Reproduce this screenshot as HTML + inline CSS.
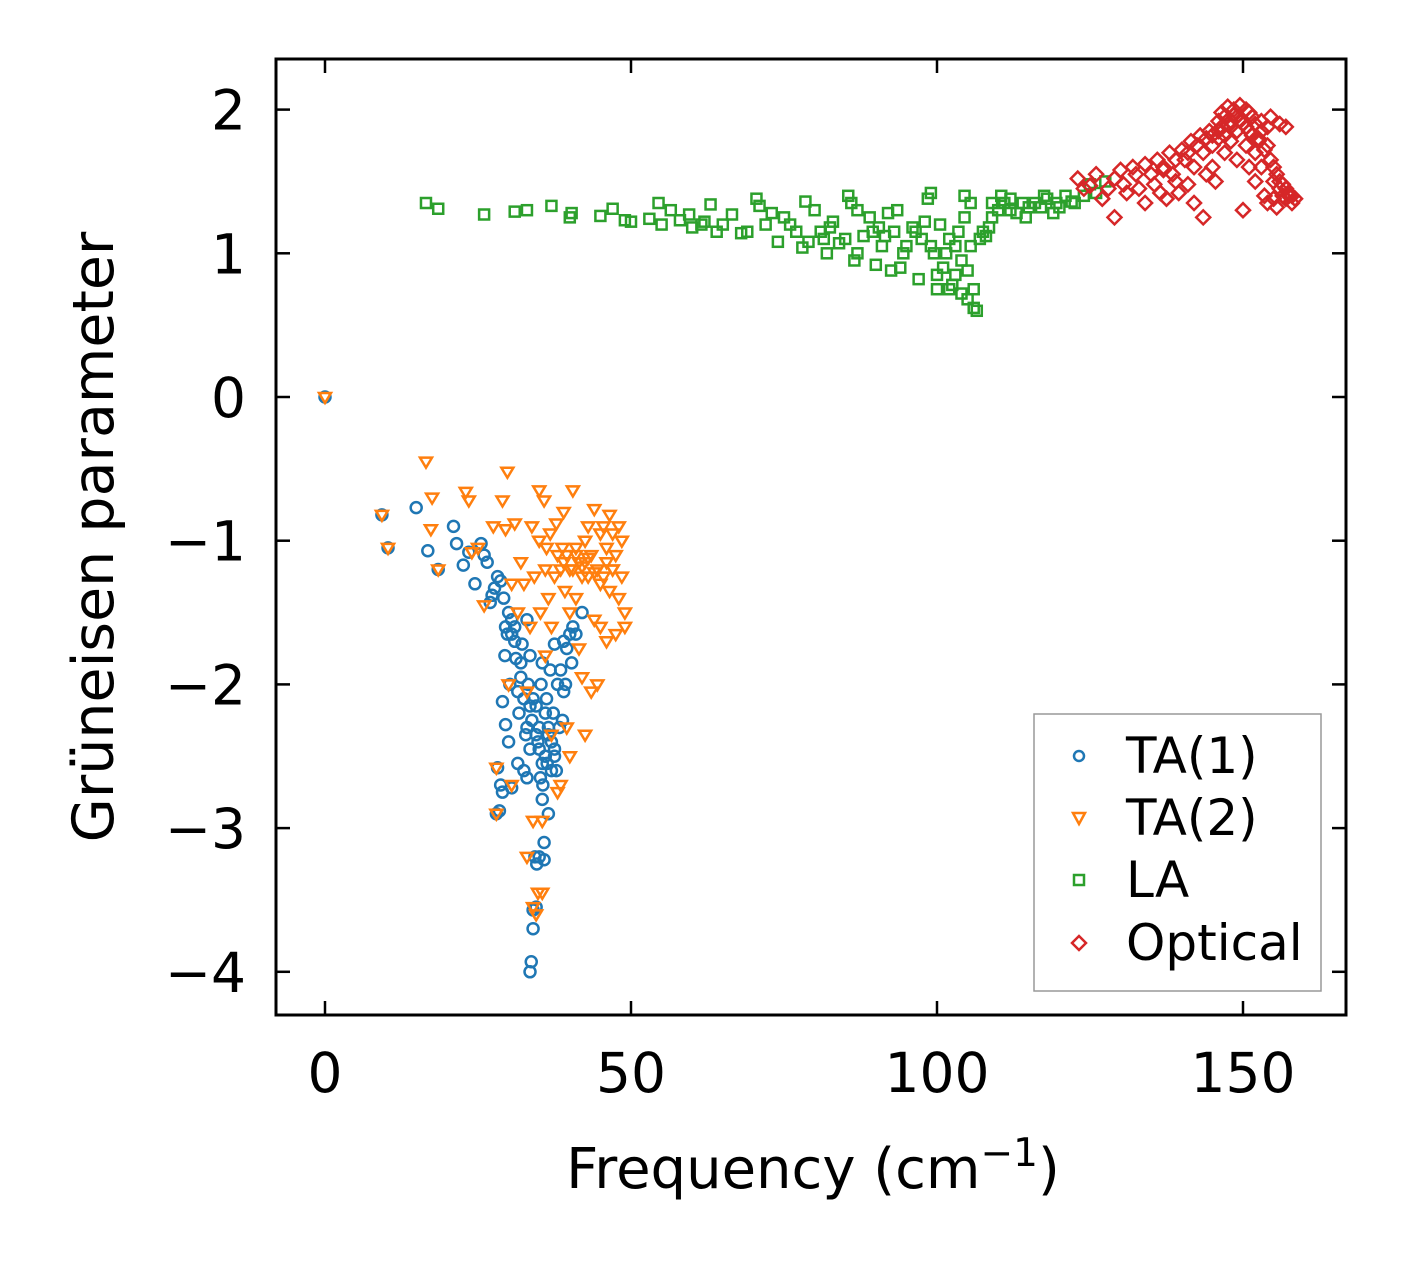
<!DOCTYPE html>
<html><head><meta charset="utf-8"><style>
body{margin:0;background:#fff;}
svg{display:block;font-family:"DejaVu Sans","Liberation Sans",sans-serif;}
</style></head><body>
<svg id="c" width="1406" height="1264">
<rect x="0" y="0" width="1406" height="1264" fill="#fff"/>
<g id="marks"></g>
<rect x="276" y="59" width="1070" height="956" fill="none" stroke="#000" stroke-width="3"/>
<g id="axes"></g>
<text x="813" y="1188" font-size="56" text-anchor="middle">Frequency (cm<tspan dy="-22" font-size="39">−1</tspan><tspan dy="22">)</tspan></text>
<text transform="translate(113,537) rotate(-90)" font-size="57" text-anchor="middle">Grüneisen parameter</text>
<g>
<rect x="1034" y="714" width="287" height="277" fill="#fff" stroke="#999" stroke-width="1.5"/>
<circle cx="1079" cy="756" r="5" fill="none" stroke="#1f77b4" stroke-width="2.5"/>
<text x="1126" y="773" font-size="50">TA(1)</text>
<path d="M1073,813 L1085,813 L1079,824 Z" fill="none" stroke="#ff7f0e" stroke-width="2.5"/>
<text x="1126" y="835" font-size="50">TA(2)</text>
<rect x="1074" y="875" width="10" height="10" fill="none" stroke="#2ca02c" stroke-width="2.5"/>
<text x="1126" y="897" font-size="50">LA</text>
<path d="M1079,936 L1086,943 L1079,950 L1072,943 Z" fill="none" stroke="#d62728" stroke-width="2.5"/>
<text x="1126" y="960" font-size="50">Optical</text>
</g>
</svg>
<script>
const xTicks=[0,50,100,150];
const yTicks=[2,1,0,-1,-2,-3,-4];
const yTickLabels=["2","1","0","−1","−2","−3","−4"];
const ta1X=[0,9.3,10.3,14.9,16.8,18.5,21,21.5,22.6,23.5,24.5,25.5,26,26.5,27,27.3,27.7,28.2,28.7,28,28.5,28.2,28.7,29,29.2,29.5,29.4,29.8,30,30.2,30,29.5,29,30.5,30.5,31,31.2,31.5,31.7,32,32.2,32.5,32.5,32.8,33,33,33.2,33.5,33.5,33.8,33.5,33.7,34,34,34.3,34.5,34.6,35,35,35.2,35.3,35.5,35.5,35.8,35.8,36,36.2,36.5,36.5,36.8,37,37.3,37.5,37.5,37.8,38,38.3,38.5,39,39,39.5,40,40.3,40.5,41,42,39.3,38.8,34.5,34.8,35.6,36.3,31,32,33,34,35,36,37,30.5,31.5,33.5,34.5,35.5,36.5,37.5];
const ta1Y=[0,-0.82,-1.05,-0.77,-1.07,-1.2,-0.9,-1.02,-1.17,-1.08,-1.3,-1.02,-1.1,-1.15,-1.43,-1.38,-1.33,-1.25,-1.28,-2.9,-2.88,-2.58,-2.7,-2.75,-1.4,-1.6,-1.8,-1.65,-1.5,-2.0,-2.4,-2.28,-2.12,-2.72,-1.55,-1.7,-1.82,-2.55,-2.2,-1.95,-1.72,-2.1,-2.6,-2.35,-1.55,-2.65,-2.0,-1.8,-2.45,-2.25,-4.0,-3.93,-3.7,-3.57,-3.2,-3.55,-3.25,-3.2,-2.3,-2.65,-2.0,-1.85,-2.8,-3.1,-3.22,-2.5,-2.1,-2.35,-2.9,-1.9,-2.6,-2.2,-2.45,-1.72,-2.6,-2.0,-2.3,-1.9,-1.7,-2.05,-1.75,-1.65,-1.85,-1.6,-1.65,-1.5,-2.0,-2.25,-2.15,-2.4,-2.7,-2.55,-1.6,-1.85,-2.3,-2.1,-2.45,-2.2,-2.4,-1.65,-2.05,-2.15,-2.35,-2.55,-2.3,-2.5];
const ta2X=[0,9.3,10.3,16.5,17.5,17.3,18.5,23,23.5,24,25,26,27.5,28,28,29,29.5,29.8,30,30.5,30.5,31,31.5,32,32.5,33.5,33.8,34,34.2,34.5,34.8,35,35,35.2,35.5,35.5,35.8,36,36.2,36.5,36.8,37,37.5,37.8,38,38,38.5,38.5,38.8,39,39.2,39.5,39.5,40,40,40.5,40.5,41,41,41.5,41.5,42,42,42.5,42.5,43,43,43.5,43.5,44,44,44.5,44.5,45,45,45.5,45.5,46,46,46.5,46.5,47,47,47.5,47.5,48,48,48.5,48.5,49,49,42.5,37,36,33,33,34,39,40,41,42,43,44,45,46,47];
const ta2Y=[0,-0.82,-1.05,-0.45,-0.7,-0.92,-1.2,-0.66,-0.72,-1.08,-1.05,-1.45,-0.9,-2.9,-2.58,-0.72,-0.92,-0.52,-2.0,-1.3,-2.7,-0.88,-1.5,-1.15,-1.3,-1.6,-0.9,-2.95,-1.25,-3.6,-3.45,-0.65,-1.0,-1.5,-3.45,-2.95,-0.72,-1.2,-1.05,-1.4,-0.95,-1.6,-1.25,-0.88,-2.75,-1.1,-2.7,-1.2,-1.05,-0.8,-1.35,-1.1,-2.3,-1.5,-2.5,-0.65,-1.2,-1.05,-1.4,-1.15,-1.75,-1.25,-1.95,-1.0,-1.15,-0.9,-1.25,-1.1,-2.05,-0.78,-1.55,-1.2,-2.0,-0.95,-1.6,-0.9,-1.25,-1.05,-1.7,-0.82,-1.35,-0.95,-1.2,-1.1,-1.65,-0.9,-1.4,-1.0,-1.25,-1.6,-1.5,-2.35,-2.35,-1.8,-2.05,-3.2,-3.55,-1.15,-1.2,-1.1,-1.18,-1.12,-1.22,-1.3,-1.15,-1.2];
const laX=[16.5,18.5,26,31,33,37,40,40.3,45,47,49,50,53,54.5,55,56.5,58,59.5,60,61.5,62,63,64,65,66.5,68,69,70.5,71,72,73,74,75,76,77,78,78.5,79,80,81,81.5,82,82.5,83,84,85,85.5,86,86.5,87,87,88,89,89.5,90,90.5,91,91.5,92,92.5,93,93.5,94,94.5,95,96,96.5,97,97.5,98,98.5,99,99,99.5,100,100,100.5,101,101.5,102,102,102.5,103,103,103.5,104,104,104.5,104.5,105,105,105.5,105.5,106,106,106.5,107,107.5,108,108.5,109,109,110,110.5,111,112,112,113,114,114.5,115,116,117,117.5,118,119,119.5,120,121,122,122.5,124,125,126,127.5];
const laY=[1.35,1.31,1.27,1.29,1.3,1.33,1.25,1.28,1.26,1.31,1.23,1.22,1.24,1.35,1.2,1.3,1.23,1.27,1.18,1.2,1.22,1.34,1.15,1.2,1.27,1.14,1.15,1.38,1.33,1.2,1.28,1.08,1.25,1.2,1.15,1.04,1.36,1.08,1.3,1.15,1.1,1.0,1.18,1.22,1.07,1.1,1.4,1.35,0.95,1.3,1.0,1.12,1.25,1.15,0.92,1.18,1.05,1.12,1.28,0.88,1.15,1.3,0.9,1.0,1.05,1.18,1.15,0.82,1.1,1.22,1.38,1.42,1.05,1.0,0.75,0.85,1.2,0.9,1.0,1.1,0.75,0.78,0.85,1.05,1.15,0.72,0.95,1.25,1.4,0.68,0.88,1.05,1.35,0.62,0.75,0.6,1.1,1.15,1.12,1.18,1.25,1.35,1.3,1.4,1.35,1.3,1.38,1.28,1.35,1.25,1.32,1.35,1.32,1.4,1.38,1.28,1.35,1.32,1.4,1.36,1.35,1.4,1.48,1.42,1.5];
const opX=[123,124,125,126,127,128,129,129,130,130.5,131,132,132.5,133,134,134,135,135.5,136,136.5,137,137.5,138,138.5,139,139.5,140,140.5,141,141.5,142,142,143,143.5,143.5,144,144.5,145,145,145.5,146,146,146.5,147,147,147.5,148,148,148.5,149,149,149.5,150,150,150.5,150.5,151,151,151.5,152,152,152.5,153,153,153.5,154,154,154.5,155,155,155.5,156,156,156.5,157,157,157.5,158,158.5,148,149,146.5,147.5,149.5,150.5,151.5,152.5,153.5,154.5,155.5,156.5,157.5,146,147,148.5,151,152,153,154,155,156,157,158,144,145,142.5,141,139,137];
const opY=[1.52,1.45,1.47,1.55,1.38,1.45,1.25,1.52,1.58,1.48,1.42,1.6,1.55,1.45,1.35,1.62,1.55,1.48,1.65,1.42,1.6,1.38,1.7,1.55,1.5,1.42,1.72,1.65,1.48,1.78,1.6,1.35,1.82,1.7,1.25,1.55,1.85,1.75,1.6,1.5,1.92,1.8,1.98,1.7,1.95,2.02,1.88,1.78,2.0,1.95,1.65,2.03,1.9,1.3,1.75,2.0,1.85,1.6,1.95,1.7,1.5,1.8,1.92,1.6,1.4,1.75,1.35,1.95,1.5,1.38,1.32,1.9,1.45,1.4,1.88,1.38,1.42,1.35,1.38,1.92,1.85,1.88,1.9,1.92,1.88,1.82,1.78,1.72,1.65,1.55,1.48,1.4,1.85,1.82,1.96,1.98,1.9,1.85,1.88,1.6,1.5,1.45,1.4,1.8,1.82,1.75,1.7,1.65,1.58];

const NS="http://www.w3.org/2000/svg";
const X0=276,X1=1346,Y0=59,Y1=1015;
function xs(v){return 325+v*6.12;}
function ys(v){return 397-v*143.7;}
const marks=document.getElementById('marks');
const axes=document.getElementById('axes');
function mk(tag,attrs,parent){const e=document.createElementNS(NS,tag);for(const k in attrs)e.setAttribute(k,attrs[k]);parent.appendChild(e);return e;}

xTicks.forEach((t,i)=>{
  const x=xs(t);
  const a=mk('line',{x1:x,x2:x,y1:Y1,y2:Y1-14,stroke:'#000','stroke-width':2.5},axes);
  
  
  const b=mk('line',{x1:x,x2:x,y1:Y0,y2:Y0+14,stroke:'#000','stroke-width':2.5},axes);
  
  
  const tx=mk('text',{x:x,y:1092,'font-size':55,'text-anchor':'middle'},axes);
  tx.textContent=String(t);
  
  
});
yTicks.forEach((t,i)=>{
  const y=ys(t);
  const a=mk('line',{x1:X0,x2:X0+14,y1:y,y2:y,stroke:'#000','stroke-width':2.5},axes);
  
  
  const b=mk('line',{x1:X1,x2:X1-14,y1:y,y2:y,stroke:'#000','stroke-width':2.5},axes);
  
  
  const tx=mk('text',{x:246,y:y+20,'font-size':55,'text-anchor':'end'},axes);
  tx.textContent=yTickLabels[i];
  
  
});

function drawSeries(xa,ya,kind,color,name){
  const g=mk('g',{},marks);
  
  
  for(let i=0;i<xa.length;i++){
    const x=xs(xa[i]),y=ys(ya[i]);let e;
    if(kind==='circle')e=mk('circle',{cx:x,cy:y,r:5.5},g);
    else if(kind==='tri')e=mk('path',{d:`M${x-6},${y-4} L${x+6},${y-4} L${x},${y+6} Z`},g);
    else if(kind==='sq')e=mk('rect',{x:x-5,y:y-5,width:10,height:10},g);
    else e=mk('path',{d:`M${x},${y-7} L${x+7},${y} L${x},${y+7} L${x-7},${y} Z`},g);
    e.setAttribute('fill','none');e.setAttribute('stroke',color);e.setAttribute('stroke-width','2.5');
    
    
  }
}
drawSeries(laX,laY,'sq','#2ca02c','la');
drawSeries(opX,opY,'dia','#d62728','optical');
drawSeries(ta1X,ta1Y,'circle','#1f77b4','ta1');
drawSeries(ta2X,ta2Y,'tri','#ff7f0e','ta2');
</script>
</body></html>
